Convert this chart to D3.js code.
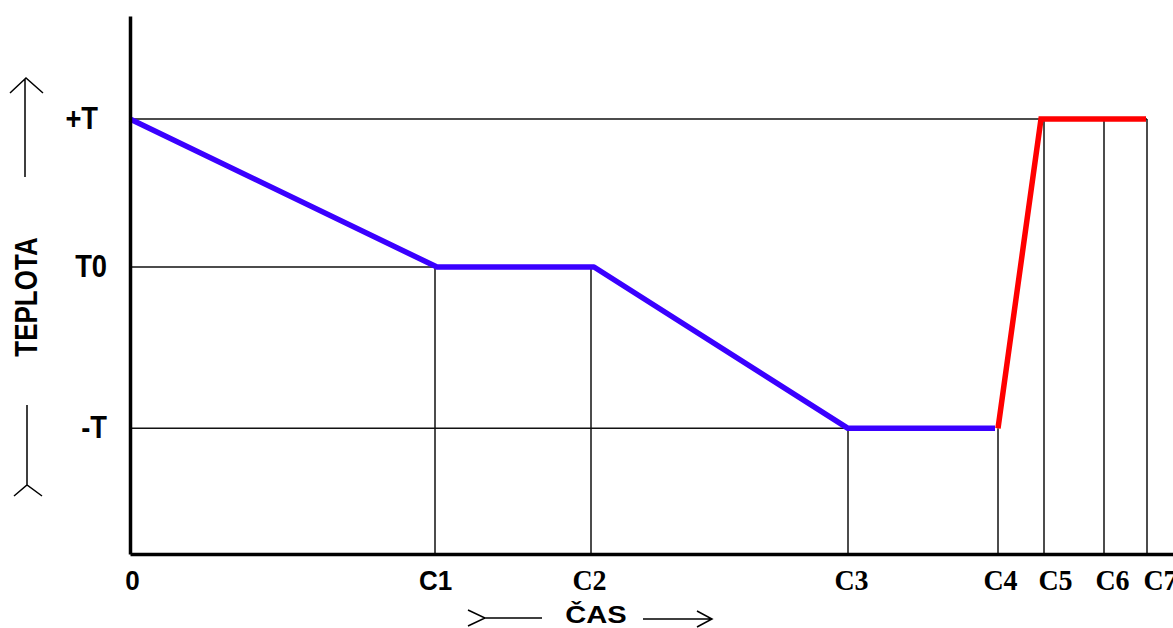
<!DOCTYPE html>
<html>
<head>
<meta charset="utf-8">
<script src="https://cdn.jsdelivr.net/npm/d3@7"></script>
<style>
  html, body { margin: 0; padding: 0; background: #fff; }
  svg { display: block; }
</style>
</head>
<body>
<svg id="chart" width="1173" height="628"></svg>
<script>
// ---- data ----
const timeLabels = ["0", "C1", "C2", "C3", "C4", "C5", "C6", "C7"];
const timeValues = [0, 30.5, 46.1, 71.8, 86.8, 91.4, 97.4, 101.7];
const tempLabels = ["+T", "T0", "-T"];
const tempValues = [1, 0, -1.09];
// guide line tops for C1..C7 (index into tempLabels)
const guideTopTemp = ["T0", "T0", "-T", "-T", "+T", "+T", "+T"];
// horizontal guides: each level runs to this time label
const guideEndTime = ["C7", "C1", "C3"];
// cooling (blue) series
const coolTimes = [0, 30.7, 46.4, 71.8, 86.5];
const coolTemps = [1, 0, 0, -1.09, -1.09];
// heating (red) series
const heatTimes = [86.8, 91.1, 101.6];
const heatTemps = [-1.09, 1, 1];
const xTitle = "ČAS";
const yTitle = "TEPLOTA";

// ---- layout ----
const svg = d3.select("#chart");
const x = d3.scaleLinear().domain([0, 104.3]).range([130, 1173]);
const y = d3.scaleLinear().domain([-1.939, 1.696]).range([554, 16]);
const tOf = l => timeValues[timeLabels.indexOf(l)];
const vOf = l => tempValues[tempLabels.indexOf(l)];

const guides = svg.append("g").attr("stroke", "#111").attr("stroke-width", 1.5).attr("fill", "none");
tempValues.forEach((v, i) => {
  guides.append("line")
    .attr("x1", x(0)).attr("x2", x(tOf(guideEndTime[i])))
    .attr("y1", y(v)).attr("y2", y(v));
});
timeValues.slice(1).forEach((t, i) => {
  guides.append("line")
    .attr("x1", x(t)).attr("x2", x(t))
    .attr("y1", y(vOf(guideTopTemp[i]))).attr("y2", y.range()[0]);
});

// series
const line = d3.line().x(d => x(d[0])).y(d => y(d[1]));
svg.append("path")
  .datum(d3.zip(coolTimes, coolTemps))
  .attr("d", line).attr("fill", "none")
  .attr("stroke", "#3a00ff").attr("stroke-width", 5.5)
  .attr("stroke-linejoin", "round");
svg.append("path")
  .datum(d3.zip(heatTimes, heatTemps))
  .attr("d", line).attr("fill", "none")
  .attr("stroke", "#ff0000").attr("stroke-width", 5.5)
  .attr("stroke-linejoin", "miter");

// axes
const xAxis = d3.axisBottom(x)
  .tickValues(timeValues)
  .tickFormat((d, i) => timeLabels[i])
  .tickSize(0).tickSizeOuter(0).tickPadding(0);
const gx = svg.append("g").attr("transform", `translate(0,${y.range()[0]})`).call(xAxis);
const xNudge = [2, 0, -2, 3, 2, 11, 8, 13];
gx.selectAll(".tick text")
  .attr("fill", "#000")
  .attr("dy", null).attr("y", 0).attr("x", 0)
  .attr("transform", (d, i) => `translate(${xNudge[i]},36) scale(1,${i < 2 ? 1.04 : 1.08})`)
  .style("font-weight", "bold")
  .style("font-family", (d, i) => i < 2 ? "'Liberation Sans', Arial, sans-serif" : "'Liberation Serif', 'Times New Roman', serif")
  .style("font-size", (d, i) => i < 2 ? "26px" : "28px");
gx.select(".domain").attr("stroke", "#000").attr("stroke-width", 3.5);

const yAxis = d3.axisLeft(y)
  .tickValues(tempValues)
  .tickFormat((d, i) => tempLabels[i])
  .tickSize(0).tickSizeOuter(0).tickPadding(0);
const gy = svg.append("g").attr("transform", `translate(${x(0)},0)`).call(yAxis);
const yNudge = [-32, -23, -23];
gy.selectAll(".tick text")
  .attr("fill", "#000")
  .attr("x", 0).attr("dy", null).attr("y", 0)
  .attr("transform", (d, i) => `translate(${yNudge[i]},9) scale(1.05,1.18)`)
  .style("font-weight", "bold")
  .style("font-family", "'Liberation Sans', Arial, sans-serif")
  .style("font-size", "26px");
gy.select(".domain").attr("stroke", "#000").attr("stroke-width", 3.5);
gy.raise();

// titles
svg.append("text")
  .attr("transform", "translate(596,623) scale(1.12,0.9)")
  .attr("text-anchor", "middle")
  .style("font-family", "'Liberation Sans', Arial, sans-serif")
  .style("font-weight", "bold").style("font-size", "26px")
  .text(xTitle);
svg.append("text")
  .attr("transform", "translate(37,297) rotate(-90) scale(1,1.18)")
  .attr("text-anchor", "middle")
  .style("font-family", "'Liberation Sans', Arial, sans-serif")
  .style("font-weight", "bold").style("font-size", "26px")
  .text(yTitle);

// arrows
const arrows = svg.append("g").attr("stroke", "#000").attr("stroke-width", 1.5).attr("fill", "none");
arrows.append("path").attr("d", "M25,177 L25,79 M10,93 L26,78 L43,93");
arrows.append("path").attr("d", "M27,405 L27,485 M14,496 L27,485 L42,496");
arrows.append("path").attr("d", "M468,610 L485,618 L468,626 M485,618 L542,618");
arrows.append("path").attr("d", "M643,619 L712,619 M697,611 L712,619 L697,627");
</script>
</body>
</html>
